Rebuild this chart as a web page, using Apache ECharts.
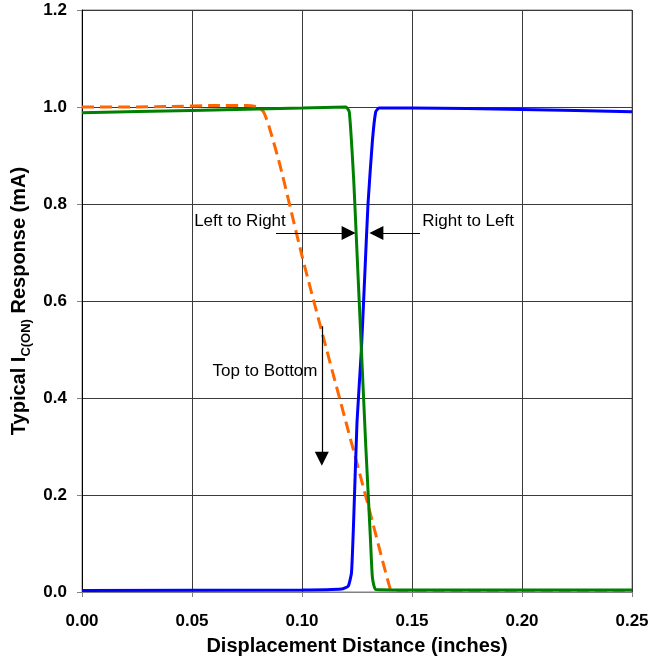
<!DOCTYPE html>
<html>
<head>
<meta charset="utf-8">
<script src="https://cdn.jsdelivr.net/npm/echarts@6/dist/echarts.min.js"></script>
<style>html,body{margin:0;padding:0;background:#fff;}#c{width:663px;height:661px;}</style>
</head>
<body>
<div id="c"></div>
<script>
// Left to Right (green)
const greenX = [0, 0.05, 0.10, 0.120, 0.1215, 0.1235, 0.125, 0.127, 0.129, 0.131, 0.132, 0.1335, 0.15, 0.25];
const greenY = [0.988, 0.993, 0.998, 1.0, 0.99, 0.85, 0.70, 0.50, 0.30, 0.12, 0.03, 0.005, 0.004, 0.004];
// Right to Left (blue)
const blueX = [0, 0.10, 0.118, 0.121, 0.1225, 0.1235, 0.125, 0.127, 0.1285, 0.130, 0.132, 0.1335, 0.135, 0.15, 0.20, 0.25];
const blueY = [0.003, 0.004, 0.006, 0.012, 0.04, 0.15, 0.35, 0.50, 0.65, 0.80, 0.93, 0.99, 0.998, 0.998, 0.995, 0.99];
// Top to Bottom (orange dashed)
const orangeX = [0, 0.02, 0.04, 0.06, 0.075, 0.080, 0.0825, 0.085, 0.09, 0.10, 0.11, 0.12, 0.13, 0.14, 0.1415, 0.25];
const orangeY = [1.0, 1.0, 1.001, 1.003, 1.003, 1.0, 0.99, 0.96, 0.88, 0.693, 0.52, 0.35, 0.18, 0.008, 0.003, 0.003];
// axis ticks
const xTicks = [0, 0.05, 0.10, 0.15, 0.20, 0.25];
const yTicks = [0, 0.2, 0.4, 0.6, 0.8, 1.0, 1.2];
// annotations (data coordinates)
const arrowLR = [[0.0882, 0.74], [0.1212, 0.74]];
const arrowRL = [[0.1536, 0.74], [0.1338, 0.74]];
const arrowTB = [[0.109, 0.548], [0.109, 0.275]];
const labels = [
  {text: 'Left to Right', x: 0.0718, y: 0.765},
  {text: 'Right to Left', x: 0.1755, y: 0.765},
  {text: 'Top to Bottom', x: 0.0832, y: 0.456}
];

const zip = (a, b) => a.map((v, i) => [v, b[i]]);
const FONT = 'Liberation Sans, Arial, sans-serif';
const chart = echarts.init(document.getElementById('c'));

chart.setOption({
  animation: false,
  backgroundColor: '#fff',
  grid: {left: 82, right: 31, top: 10, bottom: 64, show: true, borderColor: '#808080', borderWidth: 1},
  xAxis: {
    type: 'value', min: xTicks[0], max: xTicks[xTicks.length - 1], interval: 0.05,
    name: 'Displacement Distance (inches)', nameLocation: 'middle', nameGap: 44,
    nameTextStyle: {fontFamily: FONT, fontWeight: 'bold', fontSize: 20, color: '#000'},
    axisLine: {lineStyle: {color: '#808080', width: 1}},
    axisTick: {show: true, inside: false, length: 5, lineStyle: {color: '#808080'}},
    axisLabel: {fontFamily: FONT, fontWeight: 'bold', fontSize: 17, color: '#000', margin: 21,
      formatter: v => v.toFixed(2)},
    splitLine: {show: true, lineStyle: {color: '#3a3a3a', width: 1}}
  },
  yAxis: {
    type: 'value', min: yTicks[0], max: yTicks[yTicks.length - 1], interval: 0.2,
    name: '{n|Typical I}{s|C(ON)}{n| Response (mA)}', nameLocation: 'middle', nameGap: 45, nameRotate: 90,
    nameTextStyle: {
      fontFamily: FONT, fontWeight: 'bold', fontSize: 20, color: '#000',
      rich: {
        n: {fontFamily: FONT, fontWeight: 'bold', fontSize: 20, color: '#000', lineHeight: 26, verticalAlign: 'middle'},
        s: {fontFamily: FONT, fontWeight: 'bold', fontSize: 13, color: '#000', lineHeight: 13, verticalAlign: 'bottom'}
      }
    },
    axisLine: {show: true, lineStyle: {color: '#000', width: 1}},
    axisTick: {show: true, inside: false, length: 5, lineStyle: {color: '#808080'}},
    axisLabel: {fontFamily: FONT, fontWeight: 'bold', fontSize: 17, color: '#000', margin: 15,
      formatter: v => v.toFixed(1)},
    splitLine: {show: true, lineStyle: {color: '#3a3a3a', width: 1}}
  },
  series: [
    {
      name: 'Top to Bottom', type: 'line', data: zip(orangeX, orangeY), showSymbol: false, smooth: 0.2,
      lineStyle: {color: '#ff6600', width: 3, type: [12, 6]}, z: 2
    },
    {
      name: 'Right to Left', type: 'line', data: zip(blueX, blueY), showSymbol: false, smooth: 0.15,
      lineStyle: {color: '#0000ff', width: 3}, z: 3
    },
    {
      name: 'Left to Right', type: 'line', data: zip(greenX, greenY), showSymbol: false, smooth: 0.15,
      lineStyle: {color: '#008000', width: 3}, z: 4,
      markLine: {
        silent: true, animation: false,
        symbol: ['none', 'triangle'], symbolSize: [14, 14],
        label: {show: false},
        lineStyle: {color: '#000', width: 1.2, type: 'solid'},
        data: [
          [{coord: arrowLR[0]}, {coord: arrowLR[1]}],
          [{coord: arrowRL[0]}, {coord: arrowRL[1]}],
          [{coord: arrowTB[0]}, {coord: arrowTB[1]}]
        ]
      }
    }
  ]
});

chart.setOption({
  graphic: labels.map(l => {
    const p = chart.convertToPixel({gridIndex: 0}, [l.x, l.y]);
    return {
      type: 'text', x: p[0], y: p[1], z: 10,
      style: {text: l.text, fontFamily: FONT, fontSize: 17, fill: '#000', align: 'center', verticalAlign: 'middle'}
    };
  })
});
</script>
</body>
</html>
